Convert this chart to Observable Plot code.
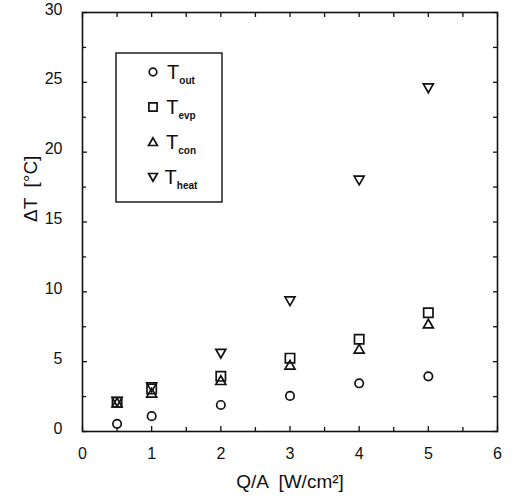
<!DOCTYPE html>
<html>
<head>
<meta charset="utf-8">
<script src="https://cdn.jsdelivr.net/npm/d3@7"></script>
<script src="https://cdn.jsdelivr.net/npm/@observablehq/plot@0.6"></script>
<style>
  body { margin: 0; background: #fff; }
  #chart { width: 515px; height: 500px; }
</style>
</head>
<body>
<div id="chart"></div>
<script>
// ---- data ----
const qa = [0.5, 1, 2, 3, 4, 5];
const tOut  = [0.55, 1.1, 1.9, 2.55, 3.45, 3.95];
const tEvp  = [2.1, 3.05, 3.95, 5.25, 6.6, 8.5];
const tCon  = [2.05, 2.75, 3.65, 4.75, 5.9, 7.7];
const tHeat = [2.15, 3.2, 5.6, 9.35, 18.0, 24.6];
const seriesNames = ["out", "evp", "con", "heat"];
const xTicks = [0, 1, 2, 3, 4, 5, 6];
const yTicks = [0, 5, 10, 15, 20, 25, 30];

// ---- custom symbols ----
const sqSym = {draw(ctx, size) { const r = Math.sqrt(size / Math.PI) * 0.93;
  ctx.moveTo(-r, -r); ctx.lineTo(r, -r); ctx.lineTo(r, r); ctx.lineTo(-r, r); ctx.closePath(); }};
const triUp = {draw(ctx, size) { const r = Math.sqrt(size / Math.PI);
  ctx.moveTo(0, -r * 0.95); ctx.lineTo(r, r * 0.8); ctx.lineTo(-r, r * 0.8); ctx.closePath(); }};
const triDown = {draw(ctx, size) { const r = Math.sqrt(size / Math.PI);
  ctx.moveTo(-r, -r * 0.8); ctx.lineTo(r, -r * 0.8); ctx.lineTo(0, r * 0.95); ctx.closePath(); }};
const symbols = ["circle", sqSym, triUp, triDown];
const radii = [4.2, 5, 5, 5];
const values = [tOut, tEvp, tCon, tHeat];

const font = "'Liberation Sans', Arial, Helvetica, sans-serif";
const ink = "#111";
const fmt = d3.format("d");

const dotMarks = values.map((vals, i) =>
  Plot.dot(qa.map((q, j) => ({x: q, y: vals[j]})), {
    x: "x", y: "y", symbol: symbols[i], r: radii[i],
    stroke: ink, strokeWidth: 1.7, fill: "none"
  })
);

const chart = Plot.plot({
  width: 515,
  height: 500,
  marginLeft: 82,
  marginRight: 18,
  marginTop: 12,
  marginBottom: 69,
  style: {fontFamily: font, color: ink, background: "#fff"},
  x: {domain: [0, 6]},
  y: {domain: [0, 30]},
  marks: [
    // bottom axis: labelled major ticks + minor ticks
    Plot.axisX({anchor: "bottom", ticks: xTicks, tickFormat: fmt, tickSize: -5, tickPadding: 21, fontSize: 16, label: null, stroke: ink, strokeWidth: 1.3}),
    Plot.axisX({anchor: "bottom", ticks: d3.range(0.5, 6, 1), tickSize: -4, tickFormat: () => "", label: null, stroke: ink, strokeWidth: 1.3}),
    Plot.axisX({anchor: "top", ticks: d3.range(0, 6.01, 0.5), tickSize: -4, tickFormat: () => "", label: null, stroke: ink, strokeWidth: 1.3}),
    // left axis: labels (nudged up as in the original), major and minor ticks
    Plot.axisY({anchor: "left", ticks: yTicks, tickFormat: fmt, tickSize: 0, tickPadding: 20, dy: -3, fontSize: 16, label: null, stroke: "none"}),
    Plot.axisY({anchor: "left", ticks: yTicks, tickSize: -5, tickFormat: () => "", label: null, stroke: ink, strokeWidth: 1.3}),
    Plot.axisY({anchor: "left", ticks: d3.range(2.5, 30, 5), tickSize: -4, tickFormat: () => "", label: null, stroke: ink, strokeWidth: 1.3}),
    Plot.axisY({anchor: "right", ticks: d3.range(0, 30.01, 2.5), tickSize: -5, tickFormat: () => "", label: null, stroke: ink, strokeWidth: 1.3}),
    Plot.frame({stroke: ink, strokeWidth: 1.6}),
    // axis titles
    Plot.text(["ΔT  [°C]"], {frameAnchor: "left", dx: -52, rotate: -90, fontSize: 19, fill: ink, text: d => d}),
    Plot.text(["Q/A  [W/cm²]"], {frameAnchor: "bottom", dy: 56, fontSize: 19, fill: ink, text: d => d}),
    ...dotMarks
  ]
});

document.getElementById("chart").appendChild(chart);

// ---- legend (inside the plot area) ----
const svg = d3.select(chart);
const lg = svg.append("g").attr("font-family", font).attr("fill", ink);
lg.append("rect").attr("x", 116).attr("y", 53).attr("width", 106).attr("height", 149)
  .attr("fill", "none").attr("stroke", ink).attr("stroke-width", 1.4);
seriesNames.forEach((name, i) => {
  const cy = 72 + i * 35;
  const r = i === 0 ? 3.8 : 4.4;
  lg.append("path")
    .attr("d", d3.symbol(symbols[i] === "circle" ? d3.symbolCircle : symbols[i], Math.PI * r * r)())
    .attr("transform", `translate(153,${cy})`)
    .attr("fill", "none").attr("stroke", ink).attr("stroke-width", 1.7);
  const t = lg.append("text").attr("x", 181).attr("y", cy + 7).attr("font-size", 20);
  t.append("tspan").text("T");
  t.append("tspan").attr("dy", 5).attr("font-size", 10).attr("font-weight", "bold").text(name);
});
</script>
</body>
</html>
